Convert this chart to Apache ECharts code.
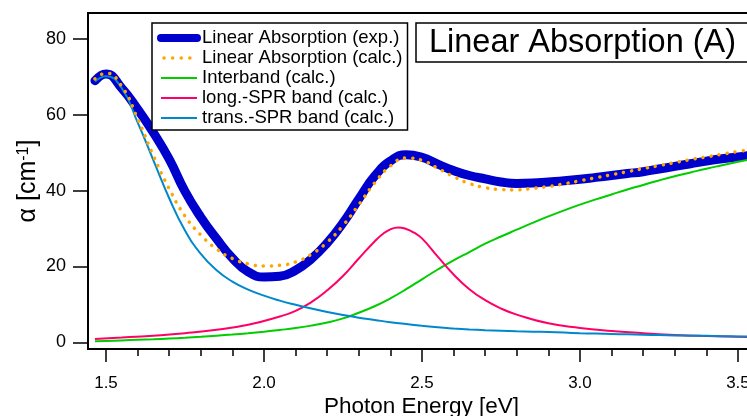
<!DOCTYPE html>
<html>
<head>
<meta charset="utf-8">
<script src="https://cdn.jsdelivr.net/npm/echarts@6/dist/echarts.min.js"></script>
<style>
html,body{margin:0;padding:0;background:#fff;}
#chart{width:747px;height:416px;}
</style>
</head>
<body>
<div id="chart"></div>
<script>
// ---- data ----
var energy = [1.465,1.50,1.55,1.60,1.65,1.70,1.75,1.80,1.85,1.90,1.95,2.00,2.05,2.10,2.15,2.20,2.25,2.30,2.35,2.40,2.45,2.50,2.55,2.60,2.65,2.70,2.75,2.80,2.85,2.90,2.95,3.00,3.05,3.10,3.15,3.20,3.25,3.30,3.35,3.40,3.45,3.50,3.535];
var absExp = [69.0,70.8,67.0,61.5,55.3,48.3,39.8,33.0,27.3,22.2,18.6,17.2,17.4,19.0,22.0,26.2,31.5,37.8,43.8,47.8,49.5,48.8,47.0,45.3,44.0,43.1,42.3,41.9,42.0,42.3,42.6,43.0,43.5,44.0,44.5,45.0,45.7,46.4,47.1,47.8,48.4,48.9,49.3];
var absCalc = [69.5,71.0,67.5,59.0,49.2,40.5,33.3,28.3,24.6,22.1,20.7,20.1,20.3,21.2,23.2,26.4,30.8,36.3,42.0,46.5,48.6,48.0,45.9,43.7,41.9,40.8,40.3,40.2,40.6,41.1,41.8,42.6,43.4,44.2,45.0,45.8,46.6,47.4,48.2,48.9,49.6,50.3,50.7];
var interband = [0.25,0.35,0.5,0.65,0.8,1.0,1.2,1.45,1.75,2.05,2.4,2.8,3.25,3.75,4.4,5.2,6.3,7.8,9.5,11.6,14.0,16.6,19.2,21.6,23.8,26.0,27.9,29.7,31.5,33.2,34.8,36.3,37.7,39.0,40.3,41.5,42.7,43.8,44.8,45.8,46.7,47.6,48.2];
var transSPR = [68.8,70.2,67.0,58.0,48.0,38.0,29.5,23.3,19.0,16.0,13.9,12.3,11.0,9.9,8.9,8.0,7.2,6.5,5.9,5.3,4.8,4.35,3.95,3.65,3.4,3.2,3.05,2.9,2.8,2.7,2.55,2.4,2.3,2.2,2.1,2.0,1.9,1.8,1.75,1.7,1.6,1.55,1.5];
// long.-SPR band is read on a finer energy grid around its peak
var longEnergy = [1.465,1.55,1.65,1.75,1.85,1.95,2.05,2.10,2.15,2.20,2.25,2.30,2.35,2.375,2.40,2.425,2.45,2.475,2.50,2.55,2.60,2.65,2.70,2.75,2.80,2.90,3.00,3.10,3.20,3.30,3.40,3.535];
var longSPR = [0.9,1.25,1.75,2.4,3.3,4.6,6.8,8.3,10.6,13.7,17.5,22.1,26.6,28.5,29.8,30.3,29.9,28.9,27.4,22.6,17.9,14.0,11.1,8.9,7.3,5.0,3.8,3.0,2.4,1.95,1.65,1.35];
var seriesNames = ['Linear Absorption (exp.)','Linear Absorption (calc.)','Interband (calc.)','long.-SPR band (calc.)','trans.-SPR band (calc.)'];
var xMajorTicks = [1.5,2.0,2.5,3.0,3.5];
var xMinorTicks = [1.6,1.7,1.8,1.9,2.1,2.2,2.3,2.4,2.6,2.7,2.8,2.9,3.1,3.2,3.3,3.4];
var yTicks = [0,20,40,60,80];
var titleText = 'Linear Absorption (A)';
var xTitle = 'Photon Energy [eV]';

function pairs(xs, ys){ return xs.map(function(e,i){ return [e, ys[i]]; }); }

var FONT = '"Liberation Sans", Arial, Helvetica, sans-serif';
var chart = echarts.init(document.getElementById('chart'), null, {renderer:'canvas'});
var option = {
  animation: false,
  backgroundColor: '#fff',
  textStyle: {fontFamily: FONT, color: '#000'},
  title: {
    text: titleText,
    left: 416, top: 23,
    borderColor: '#000', borderWidth: 1.5,
    padding: [2, 20, 1, 13],
    textStyle: {fontFamily: FONT, fontSize: 32.5, fontWeight: 'normal', color: '#000', lineHeight: 36}
  },
  legend: {
    orient: 'vertical',
    left: 152, top: 23,
    padding: [5, 5, 2, 5],
    itemWidth: 36, itemHeight: 14, itemGap: 0,
    borderColor: '#000', borderWidth: 1.5,
    backgroundColor: '#fff',
    itemStyle: {opacity: 0},
    textStyle: {fontFamily: FONT, fontSize: 18.5, lineHeight: 20, color: '#000'},
    data: [
      {name: seriesNames[0], lineStyle: {width: 8, cap: 'round', color: '#0000cc'}},
      {name: seriesNames[1], lineStyle: {width: 3.5, cap: 'round', type: [0.1, 8.5], dashOffset: -3, color: '#ffa500'}},
      {name: seriesNames[2], lineStyle: {width: 2, color: '#00cc00'}},
      {name: seriesNames[3], lineStyle: {width: 2, color: '#ff0066'}},
      {name: seriesNames[4], lineStyle: {width: 2, color: '#0088cc'}}
    ]
  },
  grid: {left: 88, right: -2, top: 13, bottom: 67, show: true, borderColor: '#000', borderWidth: 1.8,
    containLabel: false, outerBoundsMode: 'none'},
  xAxis: [{
    type: 'value', min: 1.443, max: 3.535, position: 'bottom',
    axisLine: {show: true, onZero: false, lineStyle: {color: '#000', width: 2}},
    axisTick: {show: true, customValues: xMajorTicks, length: 13, lineStyle: {color: '#000', width: 1.5}},
    axisLabel: {customValues: xMajorTicks, margin: 26, fontSize: 17, color: '#000', fontFamily: FONT,
      formatter: function(v){ return v.toFixed(1); }},
    splitLine: {show: false},
    name: xTitle, nameLocation: 'middle', nameGap: 46, nameMoveOverlap: false,
    nameTextStyle: {fontSize: 22.5, color: '#000', fontFamily: FONT, padding: [0, 0, 0, 6]}
  }, {
    type: 'value', min: 1.443, max: 3.535, position: 'bottom', gridIndex: 0,
    axisLine: {show: false, onZero: false},
    axisTick: {show: true, customValues: xMinorTicks, length: 7, lineStyle: {color: '#000', width: 1.5}},
    axisLabel: {show: false},
    splitLine: {show: false}
  }],
  yAxis: {
    type: 'value', min: -1.77, max: 86.86,
    axisLine: {show: true, onZero: false, lineStyle: {color: '#000', width: 2}},
    axisTick: {show: true, customValues: yTicks, length: 15, lineStyle: {color: '#000', width: 1.5}},
    axisLabel: {customValues: yTicks, margin: 22, fontSize: 18, color: '#000', fontFamily: FONT},
    splitLine: {show: false},
    name: '{a|α [cm}{s|-1}{a|]}', nameLocation: 'middle', nameRotate: 90, nameGap: 47, nameMoveOverlap: false,
    nameTextStyle: {color: '#000', fontFamily: FONT, rich: {
      a: {fontSize: 25, fontFamily: FONT, color: '#000'},
      s: {fontSize: 16, fontFamily: FONT, color: '#000', verticalAlign: 'top', lineHeight: 16}
    }}
  },
  series: [
    {name: seriesNames[0], type: 'line', data: pairs(energy, absExp), symbol: 'none', smooth: 0.5, z: 2,
      lineStyle: {color: '#0000cc', width: 9, cap: 'round', join: 'round'}, itemStyle: {color: '#0000cc'}},
    {name: seriesNames[1], type: 'line', data: pairs(energy, absCalc), symbol: 'none', smooth: 0.5, z: 4,
      lineStyle: {color: '#ffa500', width: 3.5, cap: 'round', type: [0.1, 8]}, itemStyle: {color: '#ffa500'}},
    {name: seriesNames[2], type: 'line', data: pairs(energy, interband), symbol: 'none', smooth: 0.5, z: 3,
      lineStyle: {color: '#00cc00', width: 2}, itemStyle: {color: '#00cc00'}},
    {name: seriesNames[3], type: 'line', data: pairs(longEnergy, longSPR), symbol: 'none', smooth: 0.5, z: 3,
      lineStyle: {color: '#ff0066', width: 2}, itemStyle: {color: '#ff0066'}},
    {name: seriesNames[4], type: 'line', data: pairs(energy, transSPR), symbol: 'none', smooth: 0.5, z: 3,
      lineStyle: {color: '#0088cc', width: 2}, itemStyle: {color: '#0088cc'}}
  ]
};
chart.setOption(option);
</script>
</body>
</html>
